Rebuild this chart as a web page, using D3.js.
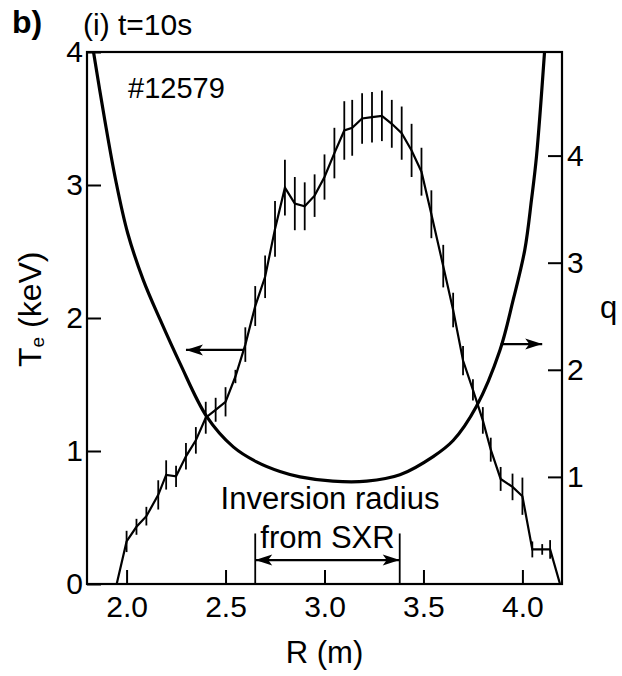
<!DOCTYPE html>
<html>
<head>
<meta charset="utf-8">
<script src="https://cdn.jsdelivr.net/npm/d3@7.9.0/dist/d3.min.js"></script>
<style>
  body { margin: 0; background: #fff; }
  svg text { font-family: "Liberation Sans", Arial, Helvetica, sans-serif; fill: #000; }
</style>
</head>
<body>
<svg id="chart" width="622" height="676"></svg>
<script>
// Te profile (keV) vs major radius R (m), with error bar half-widths
const rTe = [1.95, 2.00, 2.05, 2.10, 2.16, 2.20, 2.25, 2.30, 2.35, 2.40,
             2.45, 2.50, 2.55, 2.60, 2.65, 2.70, 2.75, 2.80, 2.85, 2.90,
             2.95, 3.00, 3.05, 3.10, 3.14, 3.19, 3.24, 3.29, 3.34, 3.39,
             3.44, 3.49, 3.54, 3.60, 3.65, 3.70, 3.75, 3.80, 3.84, 3.89,
             3.95, 4.00, 4.05, 4.10, 4.14, 4.19];
const te = [0, 0.32, 0.43, 0.51, 0.67, 0.82, 0.81, 0.96, 1.08, 1.25,
            1.31, 1.37, 1.56, 1.80, 2.09, 2.31, 2.67, 2.98, 2.86, 2.84,
            2.92, 3.06, 3.24, 3.41, 3.43, 3.50, 3.51, 3.52, 3.46, 3.39,
            3.26, 3.10, 2.78, 2.39, 2.06, 1.68, 1.46, 1.23, 1.01, 0.79,
            0.73, 0.66, 0.26, 0.26, 0.26, 0];
const teErr = [0, 0.08, 0.06, 0.07, 0.11, 0.11, 0.08, 0.10, 0.10, 0.12,
               0.09, 0.11, 0.05, 0.13, 0.15, 0.16, 0.21, 0.21, 0.20, 0.18,
               0.16, 0.17, 0.19, 0.22, 0.21, 0.19, 0.19, 0.19, 0.18, 0.20,
               0.20, 0.18, 0.18, 0.16, 0.13, 0.11, 0.08, 0.10, 0.09, 0.09,
               0.10, 0.14, 0.06, 0.04, 0.07, 0];

// safety factor q profile
const rQ = [1.830, 1.890, 1.945, 2.005, 2.084, 2.169, 2.270, 2.406, 2.539, 2.657,
            2.775, 2.876, 3.042, 3.213, 3.381, 3.549, 3.650, 3.768, 3.886, 3.953,
            4.012, 4.046, 4.071, 4.113];
const qVal = [5.0, 4.33, 3.77, 3.28, 2.84, 2.47, 2.06, 1.56, 1.28, 1.14,
              1.05, 1.00, 0.96, 0.96, 1.02, 1.19, 1.34, 1.66, 2.18, 2.65,
              3.12, 3.59, 3.99, 5.0];

const xTicks = [2.0, 2.5, 3.0, 3.5, 4.0];
const teTicks = [0, 1, 2, 3, 4];
const qTicks = [1, 2, 3, 4];

// inversion radius from SXR (m)
const inversionR = [2.65, 3.38];

const svg = d3.select('#chart');
svg.append('rect').attr('width', 622).attr('height', 676).attr('fill', '#fff');

const x = d3.scaleLinear().domain([1.8, 4.2]).range([87, 562]);
const yT = d3.scaleLinear().domain([0, 4]).range([584, 52]);
const yQ = d3.scaleLinear().domain([0, 5]).range([584, 48.5]);

svg.append('clipPath').attr('id', 'plot-clip')
  .append('rect')
  .attr('x', x(1.8)).attr('y', yT(4))
  .attr('width', x(4.2) - x(1.8)).attr('height', yT(0) - yT(4));

// axes, ticks point inward
const xAxis = svg.append('g')
  .attr('transform', `translate(0,${yT(0)})`)
  .call(d3.axisBottom(x).tickValues(xTicks).tickSize(-14).tickPadding(12).tickFormat(d3.format('.1f')));
const leftAxis = svg.append('g')
  .attr('transform', `translate(${x(1.8)},0)`)
  .call(d3.axisLeft(yT).tickValues(teTicks).tickSize(-14).tickPadding(4).tickFormat(d3.format('d')));
const rightAxis = svg.append('g')
  .attr('transform', `translate(${x(4.2)},0)`)
  .call(d3.axisRight(yQ).tickValues(qTicks).tickSize(-14).tickPadding(5).tickFormat(d3.format('d')));

[xAxis, leftAxis, rightAxis].forEach(g => {
  g.select('.domain').remove();
  g.selectAll('.tick line').attr('stroke', '#000').attr('stroke-width', 2);
  g.selectAll('.tick text').attr('font-size', 30).attr('fill', '#000')
    .style('font-family', '"Liberation Sans", Arial, sans-serif');
});

// frame
svg.append('rect')
  .attr('x', x(1.8)).attr('y', yT(4))
  .attr('width', x(4.2) - x(1.8)).attr('height', yT(0) - yT(4))
  .attr('fill', 'none').attr('stroke', '#000').attr('stroke-width', 2.2);

const plot = svg.append('g').attr('clip-path', 'url(#plot-clip)');

// q curve
const qLine = d3.line().x(d => x(d[0])).y(d => yQ(d[1])).curve(d3.curveCatmullRom.alpha(0.5));
plot.append('path')
  .attr('d', qLine(rQ.map((r, i) => [r, qVal[i]])))
  .attr('fill', 'none').attr('stroke', '#000').attr('stroke-width', 3.2);

// Te profile
const teLine = d3.line().x(d => x(d[0])).y(d => yT(d[1]));
plot.append('path')
  .attr('d', teLine(rTe.map((r, i) => [r, te[i]])))
  .attr('fill', 'none').attr('stroke', '#000').attr('stroke-width', 2.2);

plot.selectAll('line.err')
  .data(rTe.map((r, i) => ({ r, v: te[i], e: teErr[i] })).filter(d => d.e > 0))
  .join('line')
  .attr('class', 'err')
  .attr('x1', d => x(d.r)).attr('x2', d => x(d.r))
  .attr('y1', d => yT(d.v - d.e)).attr('y2', d => yT(d.v + d.e))
  .attr('stroke', '#000').attr('stroke-width', 1.8);

// arrows
function arrowHead(px, py, dir) {
  const L = 17, W = 5.5;
  return `M${px},${py}L${px - dir * L},${py - W}L${px - dir * L + dir * 4},${py}L${px - dir * L},${py + W}Z`;
}
function hArrow(x1, x2, yy, heads) {
  svg.append('line').attr('x1', x1).attr('x2', x2).attr('y1', yy).attr('y2', yy)
    .attr('stroke', '#000').attr('stroke-width', 2.2);
  heads.forEach(h => {
    const px = h > 0 ? x2 : x1;
    svg.append('path').attr('d', arrowHead(px, yy, h > 0 ? 1 : -1)).attr('fill', '#000');
  });
}
hArrow(x(2.30), x(2.59), yT(1.76), [-1]);
hArrow(x(3.89), x(4.10), yQ(2.24), [1]);

// inversion radius bracket
inversionR.forEach(r => {
  svg.append('line')
    .attr('x1', x(r)).attr('x2', x(r))
    .attr('y1', yT(0.38)).attr('y2', yT(0))
    .attr('stroke', '#000').attr('stroke-width', 1.8);
});
hArrow(x(inversionR[0]), x(inversionR[1]), yT(0.18), [-1, 1]);

svg.append('text').attr('x', 330).attr('y', 509).attr('text-anchor', 'middle')
  .attr('font-size', 31).text('Inversion radius');
svg.append('text').attr('x', x(d3.mean(inversionR))).attr('y', 548).attr('text-anchor', 'middle')
  .attr('font-size', 31).text('from SXR');

// titles and labels
svg.append('text').attr('x', 12).attr('y', 33).attr('font-size', 32).attr('font-weight', 'bold').text('b)');
svg.append('text').attr('x', 83).attr('y', 35).attr('font-size', 30).text('(i) t=10s');
svg.append('text').attr('x', 128).attr('y', 98).attr('font-size', 29).text('#12579');

svg.append('text').attr('x', (x(1.8) + x(4.2)) / 2).attr('y', 663).attr('text-anchor', 'middle')
  .attr('font-size', 31).text('R (m)');
svg.append('text').attr('x', 600).attr('y', 318).attr('font-size', 31).text('q');

const yLabel = svg.append('text')
  .attr('transform', 'translate(41,367) rotate(-90)')
  .attr('font-size', 32);
yLabel.append('tspan').text('T');
yLabel.append('tspan').attr('font-size', 19).attr('dy', 3).text('e');
yLabel.append('tspan').attr('dy', -3).text('\u00a0(keV)');
</script>
</body>
</html>
